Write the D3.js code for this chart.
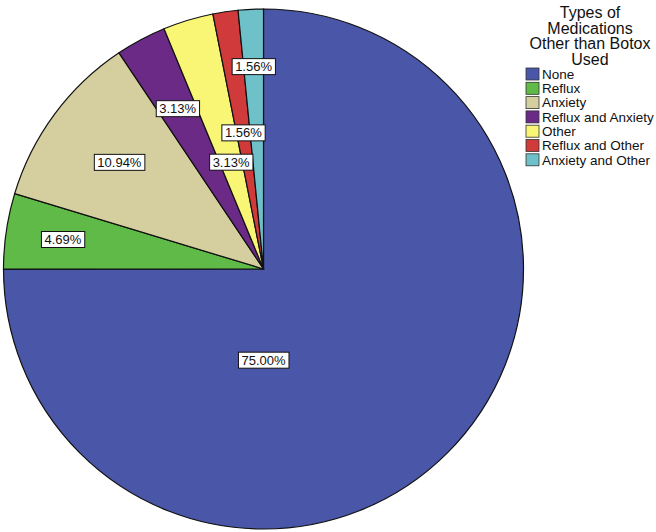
<!DOCTYPE html>
<html>
<head>
<meta charset="utf-8">
<script src="https://cdn.jsdelivr.net/npm/d3@7"></script>
<style>
  body { margin: 0; background: #fff; }
  svg { font-family: "Liberation Sans", Arial, sans-serif; }
</style>
</head>
<body>
<script>
// data
var categories = ["None", "Reflux", "Anxiety", "Reflux and Anxiety", "Other", "Reflux and Other", "Anxiety and Other"];
var percents = [75.00, 4.69, 10.94, 3.13, 3.13, 1.56, 1.56];
var colors = ["#4a56a8", "#5fba47", "#d5cf9f", "#6b2a86", "#f9f575", "#d03a3a", "#6fc1c9"];
var titleLines = ["Types of", "Medications", "Other than Botox", "Used"];

// label placement (fraction of radius), SPSS staggers them
var labelR = [0.35, 0.78, 0.69, 0.70, 0.43, 0.53, 0.78];

var w = 656, h = 532;
var cx = 263.5, cy = 269, r = 260;

var svg = d3.select("body").append("svg")
    .attr("width", w)
    .attr("height", h);

var pie = d3.pie().sort(null).value(function(d) { return d; });
var arcs = pie(percents);
var arc = d3.arc().innerRadius(0).outerRadius(r);

var g = svg.append("g").attr("transform", "translate(" + cx + "," + cy + ")");

g.selectAll("path")
  .data(arcs)
  .enter()
  .append("path")
  .attr("d", arc)
  .attr("fill", function(d, i) { return colors[i]; })
  .attr("stroke", "#111")
  .attr("stroke-width", 1.2);

// labels
var lab = g.selectAll("g.lab")
  .data(arcs)
  .enter()
  .append("g")
  .attr("class", "lab")
  .attr("transform", function(d, i) {
    var a = (d.startAngle + d.endAngle) / 2;
    if (i == 0) a = Math.PI; // the big slice label sits straight below the centre
    var rr = labelR[i] * r;
    return "translate(" + (Math.sin(a) * rr) + "," + (-Math.cos(a) * rr) + ")";
  });

lab.append("text")
  .attr("text-anchor", "middle")
  .attr("dy", "0.36em")
  .attr("font-size", 13)
  .attr("fill", "#111")
  .text(function(d, i) { return percents[i].toFixed(2) + "%"; });

lab.each(function() {
  var t = d3.select(this).select("text");
  var bb = t.node().getBBox();
  d3.select(this).insert("rect", "text")
    .attr("x", bb.x - 3)
    .attr("y", bb.y - 0.5)
    .attr("width", bb.width + 6)
    .attr("height", bb.height + 1)
    .attr("fill", "#fff")
    .attr("stroke", "#111")
    .attr("stroke-width", 1);
});

// legend title
svg.selectAll("text.title")
  .data(titleLines)
  .enter()
  .append("text")
  .attr("class", "title")
  .attr("x", 590)
  .attr("y", function(d, i) { return 18 + i * 15.5; })
  .attr("text-anchor", "middle")
  .attr("font-size", 16)
  .attr("fill", "#111")
  .text(function(d) { return d; });

// legend items
var leg = svg.selectAll("g.leg")
  .data(categories)
  .enter()
  .append("g")
  .attr("class", "leg")
  .attr("transform", function(d, i) { return "translate(526," + (68 + i * 14.3) + ")"; });

leg.append("rect")
  .attr("width", 13)
  .attr("height", 12)
  .attr("fill", function(d, i) { return colors[i]; })
  .attr("stroke", "#333")
  .attr("stroke-width", 0.8);

leg.append("text")
  .attr("x", 16)
  .attr("y", 6)
  .attr("dy", "0.36em")
  .attr("font-size", 13.5)
  .attr("fill", "#111")
  .text(function(d) { return d; });
</script>
</body>
</html>
